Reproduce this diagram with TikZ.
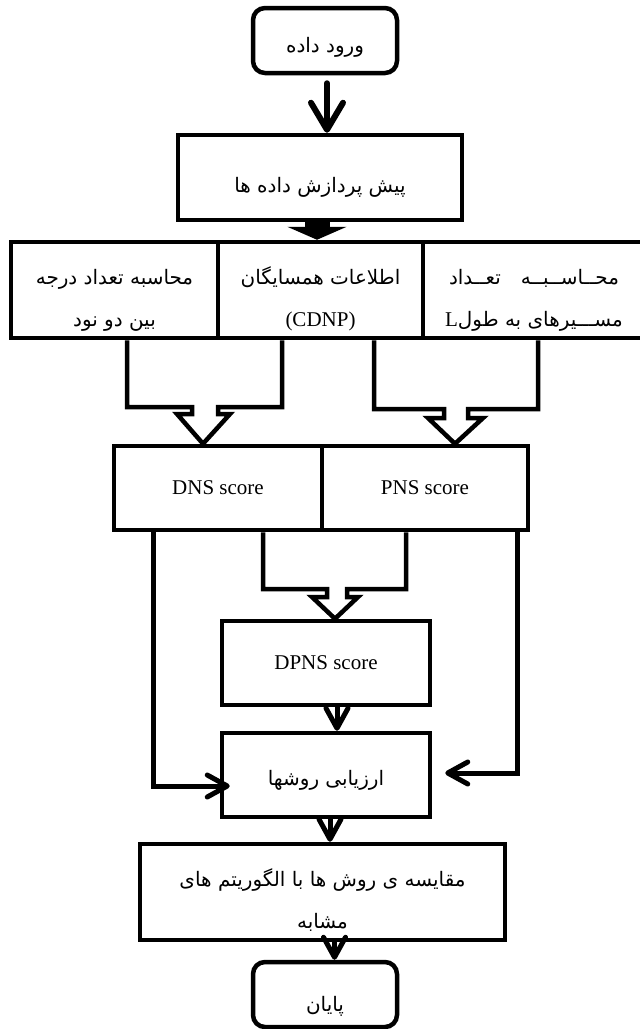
\documentclass[tikz,border=0pt]{standalone}
\usepackage{fontspec}
\setmainfont{Liberation Serif}
\newfontfamily\farsi[Script=Arabic,Scale=0.95]{DejaVu Sans}
\TeXXeTstate=1
\usetikzlibrary{arrows.meta}
\newcommand\fa[1]{{\farsi\beginR #1\endR}}

\begin{document}
\begin{tikzpicture}[x=1pt,y=-1pt,
    font=\fontsize{21pt}{42pt}\selectfont,
    box/.style={rectangle,draw,line width=4.5pt,inner sep=0pt,align=center},
    lower/.style={execute at begin node={\rule{0pt}{#1}}},
    term/.style={box,rounded corners=12pt,minimum width=144pt,minimum height=65pt},
    arr/.style={line width=5pt,-{Straight Barb[length=20pt,width=22pt,round]}},
    bigarr/.style={line width=6pt,line cap=round,-{Straight Barb[length=27pt,width=32pt,round]}},
    fatarr/.style={line width=25pt,-{Triangle[length=13pt,width=59pt]}},
    hollow/.style={line width=4.5pt,line join=miter}]
    \useasboundingbox (0,0) rectangle (640,1029);
    \node (start)  at (325,40.5)  [term,lower=28pt] {\fa{ورود داده}};
    \node (prep)   at (320,177.5) [box,lower=34pt,minimum width=284pt,minimum height=85pt] {\fa{پیش پردازش داده ها}};
    \node (deg)    at (114.5,290) [box,lower=78pt,minimum width=207pt,minimum height=96pt] {\fa{محاسبه تعداد درجه}\\\fa{بین دو نود}};
    \node (cdnp)   at (320.5,290) [box,lower=78pt,minimum width=205pt,minimum height=96pt] {\fa{اطلاعات همسایگان}\\(CDNP)};
    \node (path)   at (534,290)   [box,lower=78pt,minimum width=222pt,minimum height=96pt] {\fa{محــاســبــه\quad تعــداد}\\L\fa{مســـیرهای به طول}};
    \node (dns)    at (218,488)   [box,minimum width=208pt,minimum height=84pt] {DNS score};
    \node (pns)    at (425,488)   [box,minimum width=206pt,minimum height=84pt] {PNS score};
    \node (dpns)   at (326,663)   [box,minimum width=208pt,minimum height=84pt] {DPNS score};
    \node (eval)   at (326,775)   [box,lower=26pt,minimum width=208pt,minimum height=84pt] {\fa{ارزیابی روشها}};
    \node (comp)   at (322.5,892) [box,lower=76pt,minimum width=365pt,minimum height=96pt] {\fa{مقایسه ی روش ها با الگوریتم های}\\\fa{مشابه}};
    \node (finish) at (325,994.5) [term,lower=38pt] {\fa{پایان}};
    \draw [bigarr,shorten <=8pt] ([xshift=2pt]start.south) -- ([xshift=2pt]start.south |- prep.north);
    \draw [fatarr] ([xshift=-3pt]prep.south) -- ([xshift=-3pt]prep.south |- cdnp.north);
    \draw [hollow] (deg.south -| 127,0) -- (127,407) -- (192,407) -- (192,414) -- (177,414)
      -- (dns.north -| 203,0) -- (230,414) -- (218,414) -- (218,407) -- (282,407) -- (cdnp.south -| 282,0);
    \draw [hollow] (cdnp.south -| 374,0) -- (374,409) -- (444,409) -- (444,418) -- (428,418)
      -- (pns.north -| 455,0) -- (483,418) -- (468,418) -- (468,409) -- (538,409) -- (path.south -| 538,0);
    \draw [hollow] (dns.south -| 263,0) -- (263,589) -- (327,589) -- (327,597) -- (312,597)
      -- (dpns.north -| 335,0) -- (358,597) -- (347,597) -- (347,589) -- (406,589) -- (pns.south -| 406,0);
    \draw [arr] (dns.south -| 153,0) |- ([xshift=10pt,yshift=-11pt]eval.west);
    \draw [arr] (pns.south -| 517,0) |- ([xshift=13pt,yshift=2pt]eval.east);
    \draw [arr] ([xshift=11pt]dpns.south) -- ([xshift=11pt]eval.north);
    \draw [arr] ([xshift=4pt]eval.south) -- ([xshift=4pt]eval.south |- comp.north);
    \draw [arr] ([xshift=12pt]comp.south) -- ([xshift=12pt]comp.south |- finish.north);
  \end{tikzpicture}
\end{document}
